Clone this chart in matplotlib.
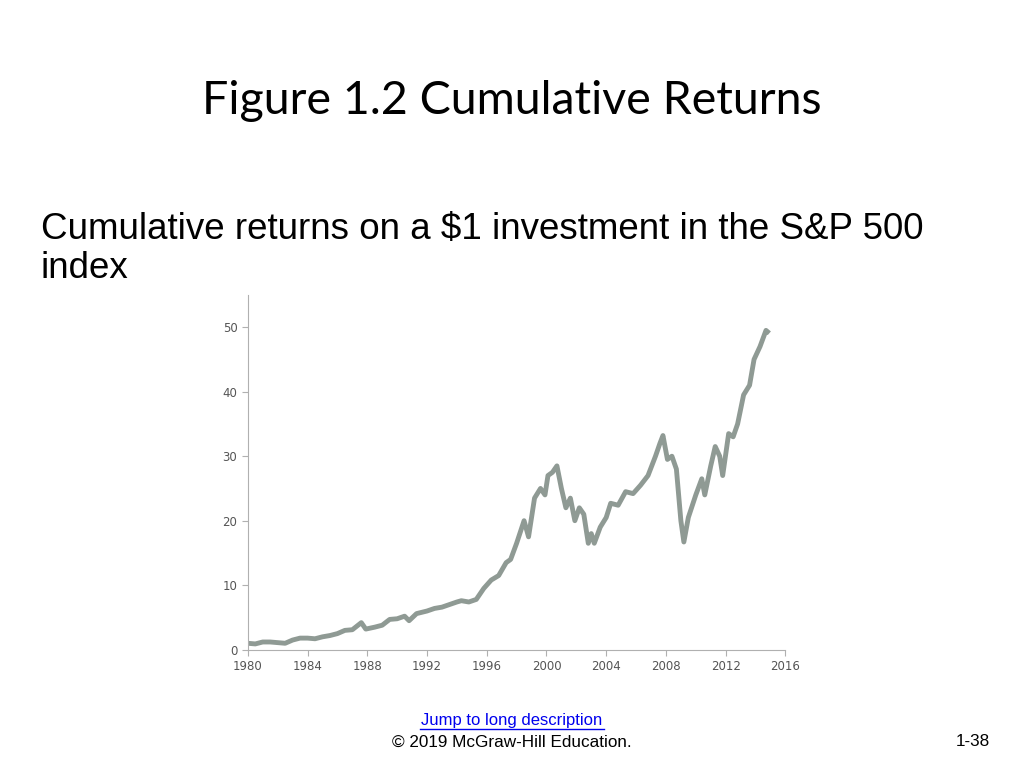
import matplotlib
matplotlib.use("Agg")
import matplotlib.pyplot as plt
from matplotlib.lines import Line2D

years = [1980, 1980.5, 1981, 1981.5, 1982, 1982.5, 1983, 1983.5, 1984, 1984.5, 1985, 1985.5,
         1986, 1986.5, 1987, 1987.6, 1987.9, 1988.5, 1989, 1989.5, 1990, 1990.5, 1990.8, 1991.3,
         1992, 1992.5, 1993, 1993.5, 1994, 1994.3, 1994.8, 1995.3, 1995.8, 1996.3, 1996.8, 1997.3,
         1997.6, 1998, 1998.5, 1998.8, 1999.2, 1999.6, 1999.9, 2000.1, 2000.4, 2000.7, 2001.0,
         2001.3, 2001.6, 2001.9, 2002.2, 2002.5, 2002.8, 2003.0, 2003.2, 2003.6, 2004, 2004.3,
         2004.8, 2005.3, 2005.8, 2006.3, 2006.8, 2007.3, 2007.6, 2007.8, 2008.1, 2008.4, 2008.7,
         2009.0, 2009.2, 2009.5, 2010, 2010.4, 2010.6, 2011, 2011.3, 2011.6, 2011.8, 2012.2,
         2012.5, 2012.8, 2013.2, 2013.6, 2013.9, 2014.3, 2014.7, 2014.8]
values = [1.0, 0.9, 1.2, 1.2, 1.1, 1.0, 1.5, 1.8, 1.8, 1.7, 2.0, 2.2,
          2.5, 3.0, 3.1, 4.2, 3.2, 3.5, 3.8, 4.7, 4.8, 5.2, 4.5, 5.6,
          6.0, 6.4, 6.6, 7.0, 7.4, 7.6, 7.4, 7.8, 9.5, 10.8, 11.5, 13.5,
          14.0, 16.5, 20.0, 17.5, 23.5, 25.0, 24.0, 27.0, 27.5, 28.5, 25.0,
          22.0, 23.5, 20.0, 22.0, 21.0, 16.5, 18.0, 16.5, 19.0, 20.5, 22.7,
          22.4, 24.5, 24.2, 25.5, 27.0, 30.0, 32.0, 33.2, 29.5, 30.0, 28.0,
          20.0, 16.7, 20.5, 24.0, 26.5, 24.0, 28.5, 31.5, 30.0, 27.0, 33.5,
          33.0, 35.0, 39.5, 41.0, 45.0, 47.0, 49.5, 49.3]
xticks = [1980, 1984, 1988, 1992, 1996, 2000, 2004, 2008, 2012, 2016]
yticks = [0, 10, 20, 30, 40, 50]

fig = plt.figure(figsize=(10.24, 7.68), dpi=100)
fig.text(0.5, 0.869, "Figure 1.2 Cumulative Returns", ha="center", va="center",
         fontsize=33.5, family="Lato")
fig.text(0.04, 0.676, "Cumulative returns on a $1 investment in the S&P 500\nindex",
         ha="left", va="center", fontsize=26.5, family="Liberation Sans", linespacing=1.15)
fig.text(0.5, 0.062, "Jump to long description", ha="center", va="center",
         fontsize=12, color="#0000ee", family="Liberation Sans")
fig.add_artist(Line2D([0.41, 0.59], [0.0505, 0.0505], color="#0000ee", lw=1,
                      transform=fig.transFigure))
fig.text(0.5, 0.033, "© 2019 McGraw-Hill Education.", ha="center", va="center",
         fontsize=12.3, family="Liberation Sans")
fig.text(0.95, 0.034, "1-38", ha="center", va="center", fontsize=12.3, family="Liberation Sans")

ax = fig.add_axes([0.242, 0.154, 0.525, 0.462])
ax.plot(years, values, color="#8f9a94", lw=3.5, solid_joinstyle="round")
ax.set_xlim(1980, 2016)
ax.set_ylim(0, 55)
ax.set_xticks(xticks)
ax.set_yticks(yticks)
for s in ["top", "right"]:
    ax.spines[s].set_visible(False)
for s in ["left", "bottom"]:
    ax.spines[s].set_color("#b0b0b0")
ax.tick_params(colors="#b0b0b0", labelcolor="#555555", labelsize=8.5, length=4)
fig.savefig("out.png", dpi=100)
